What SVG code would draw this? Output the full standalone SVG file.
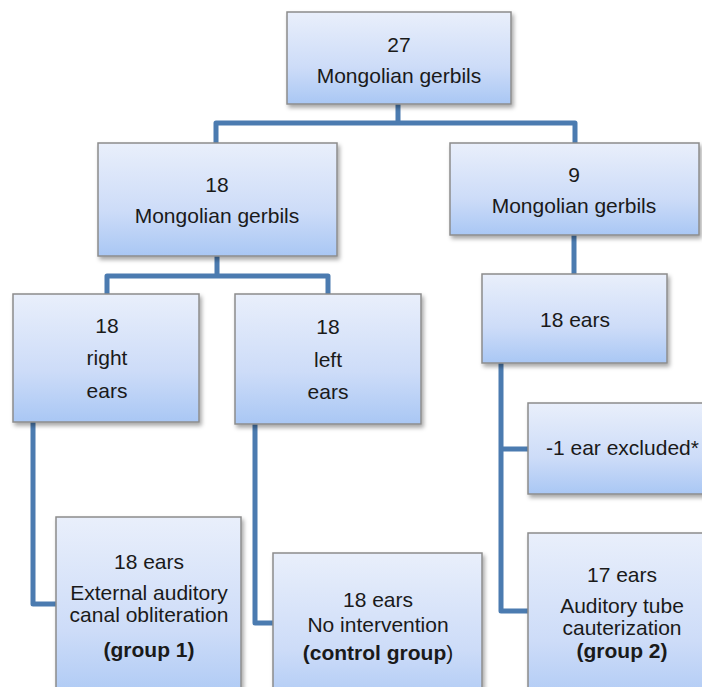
<svg xmlns="http://www.w3.org/2000/svg" width="702" height="687" viewBox="0 0 702 687">
  <defs>
    <linearGradient id="boxfill" x1="0" y1="0" x2="0" y2="1">
      <stop offset="0" stop-color="#e9effb"/>
      <stop offset="0.6" stop-color="#cddcf8"/>
      <stop offset="1" stop-color="#a9c7f4"/>
    </linearGradient>
    <filter id="shadow" x="-10%" y="-10%" width="130%" height="130%">
      <feDropShadow dx="2" dy="3" stdDeviation="2" flood-color="#000" flood-opacity="0.35"/>
    </filter>
  </defs>
  <style>
    .box { fill: url(#boxfill); stroke: #8c8c8c; stroke-width: 1.5; filter: url(#shadow); }
    .t { font-family: "Liberation Sans", Arial, sans-serif; font-size: 21px; fill: #1a1a1a; text-anchor: middle; }
    .b { font-weight: bold; }
    .conn { fill: none; stroke: #4b7bb0; stroke-width: 5; stroke-linejoin: round; stroke-linecap: butt; }
  </style>
  <rect width="702" height="687" fill="#ffffff"/>

  <g id="connectors">
    <path class="conn" d="M398,104 V123 M216,143 V123 H575 V143"/>
    <path class="conn" d="M217,256 V276 M107,296 V276 H328 V296"/>
    <path class="conn" d="M574,235 V274"/>
    <path class="conn" d="M501,363 V611 H528 M501,449 H528"/>
    <path class="conn" d="M33,422 V604 H56"/>
    <path class="conn" d="M255,424 V623 H273"/>
  </g>

  <g id="n-27">
    <rect class="box" x="287" y="12" width="224" height="92"/>
    <text class="t" x="399" y="52">27</text>
    <text class="t" x="399" y="83">Mongolian gerbils</text>
  </g>

  <g id="n-18g">
    <rect class="box" x="98" y="143" width="239" height="113"/>
    <text class="t" x="217" y="192">18</text>
    <text class="t" x="217" y="223">Mongolian gerbils</text>
  </g>

  <g id="n-9g">
    <rect class="box" x="450" y="143" width="249" height="92"/>
    <text class="t" x="574" y="182">9</text>
    <text class="t" x="574" y="213">Mongolian gerbils</text>
  </g>

  <g id="n-right">
    <rect class="box" x="13" y="294" width="186" height="128"/>
    <text class="t" x="107" y="333">18</text>
    <text class="t" x="107" y="365">right</text>
    <text class="t" x="107" y="398">ears</text>
  </g>

  <g id="n-left">
    <rect class="box" x="235" y="294" width="186" height="130"/>
    <text class="t" x="328" y="334">18</text>
    <text class="t" x="328" y="367">left</text>
    <text class="t" x="328" y="399">ears</text>
  </g>

  <g id="n-18ears">
    <rect class="box" x="482" y="274" width="185" height="89"/>
    <text class="t" x="575" y="327">18 ears</text>
  </g>

  <g id="n-excluded">
    <rect class="box" x="528" y="403" width="190" height="91"/>
    <text class="t" x="546" y="455" style="text-anchor:start">-1 ear excluded*</text>
  </g>

  <g id="n-group1">
    <rect class="box" x="56" y="517" width="185" height="190"/>
    <text class="t" x="149" y="569">18 ears</text>
    <text class="t" x="149" y="600">External auditory</text>
    <text class="t" x="149" y="622">canal obliteration</text>
    <text class="t b" x="149" y="657">(group 1)</text>
  </g>

  <g id="n-control">
    <rect class="box" x="273" y="553" width="209" height="160"/>
    <text class="t" x="378" y="607">18 ears</text>
    <text class="t" x="378" y="632">No intervention</text>
    <text class="t" x="378" y="660"><tspan class="b">(control group</tspan>)</text>
  </g>

  <g id="n-group2">
    <rect class="box" x="528" y="533" width="190" height="180"/>
    <text class="t" x="622" y="582">17 ears</text>
    <text class="t" x="622" y="613">Auditory tube</text>
    <text class="t" x="622" y="635">cauterization</text>
    <text class="t b" x="622" y="658">(group 2)</text>
  </g>
</svg>
